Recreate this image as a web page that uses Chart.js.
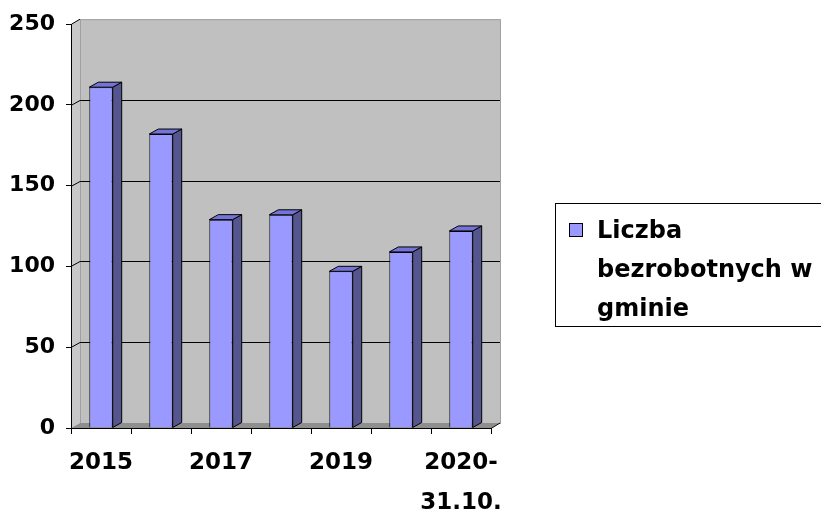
<!DOCTYPE html>
<html>
<head>
<meta charset="utf-8">
<script src="https://cdn.jsdelivr.net/npm/chart.js@4/dist/chart.umd.min.js"></script>
<style>
  body { margin: 0; background: #fff; width: 821px; height: 516px; overflow: hidden; position: relative; }
  #legend {
    position: absolute; left: 555px; top: 203px; width: 290px; height: 124px;
    border: 1px solid #000; box-sizing: border-box; background: #fff;
    font: bold 24px "DejaVu Sans", sans-serif; color: #000;
  }
  #legend .box {
    position: absolute; left: 13px; top: 19px; width: 14px; height: 14px;
    background: #9999ff; border: 1px solid #000; box-sizing: border-box;
  }
  #legend .txt { position: absolute; left: 41px; top: 7px; line-height: 39px; white-space: nowrap; }
</style>
</head>
<body>
<canvas id="chart" width="821" height="516"></canvas>
<div id="legend"><div class="box"></div><div class="txt">Liczba<br>bezrobotnych w<br>gminie</div></div>
<script>
// DATA
const categories = ['2015', '2016', '2017', '2018', '2019', '2020', ['2020-', '31.10.']];
const unemployed = [211, 182, 129, 132, 97, 109, 122];
const seriesName = 'Liczba bezrobotnych w gminie';

// 3D depth of the excel-style chart
const DX = 9, DY = 5;

const wallPlugin = {
    id: 'wall',
    beforeDraw(chart) {
        const { ctx, chartArea: a, scales: { y } } = chart;
        ctx.save();
        // side wall
        ctx.fillStyle = '#c8c8c8';
        ctx.beginPath();
        ctx.moveTo(a.left, a.bottom);
        ctx.lineTo(a.left, a.top);
        ctx.lineTo(a.left + DX, a.top - DY);
        ctx.lineTo(a.left + DX, a.bottom - DY);
        ctx.closePath();
        ctx.fill();
        // back wall
        ctx.fillStyle = '#c0c0c0';
        ctx.fillRect(a.left + DX, a.top - DY, a.right - a.left, a.bottom - a.top);
        ctx.strokeStyle = '#a0a0a0';
        ctx.lineWidth = 1;
        ctx.strokeRect(a.left + DX + 0.5, a.top - DY + 0.5, a.right - a.left, a.bottom - a.top);
        // floor
        ctx.fillStyle = '#8e8e8e';
        ctx.beginPath();
        ctx.moveTo(a.left, a.bottom);
        ctx.lineTo(a.left + DX, a.bottom - DY);
        ctx.lineTo(a.right + DX, a.bottom - DY);
        ctx.lineTo(a.right, a.bottom);
        ctx.closePath();
        ctx.fill();
        // gridlines on the back wall
        ctx.strokeStyle = '#000';
        y.ticks.forEach(t => {
            if (t.value === 0 || t.value === y.max) return;
            const py = Math.round(y.getPixelForValue(t.value)) + 0.5;
            ctx.beginPath();
            ctx.moveTo(a.left, py);
            ctx.lineTo(a.left + DX, py - DY);
            ctx.lineTo(a.right + DX, py - DY);
            ctx.stroke();
        });
        // top of y axis + right end of the floor
        ctx.beginPath();
        ctx.moveTo(a.left + 0.5, a.top);
        ctx.lineTo(a.left + DX, a.top - DY);
        ctx.moveTo(a.right, a.bottom + 0.5);
        ctx.lineTo(a.right + DX, a.bottom - DY);
        ctx.stroke();
        ctx.restore();
    },
    afterDatasetsDraw(chart) {
        const { ctx } = chart;
        ctx.save();
        ctx.strokeStyle = '#000';
        ctx.lineWidth = 1;
        chart.getDatasetMeta(0).data.forEach(bar => {
            const { x, y, width, base } = bar.getProps(['x', 'y', 'width', 'base'], true);
            const l = x - width / 2, r = x + width / 2;
            // side face
            ctx.fillStyle = '#55558f';
            ctx.beginPath();
            ctx.moveTo(r, y);
            ctx.lineTo(r + DX, y - DY);
            ctx.lineTo(r + DX, base - DY);
            ctx.lineTo(r, base);
            ctx.closePath();
            ctx.fill();
            ctx.stroke();
            // top face
            ctx.fillStyle = '#7373d8';
            ctx.beginPath();
            ctx.moveTo(l, y);
            ctx.lineTo(l + DX, y - DY);
            ctx.lineTo(r + DX, y - DY);
            ctx.lineTo(r, y);
            ctx.closePath();
            ctx.fill();
            ctx.stroke();
        });
        ctx.restore();
    }
};

const ctx = document.getElementById('chart');

new Chart(ctx, {
    type: 'bar',
    data: {
        labels: categories,
        datasets: [{
            label: seriesName,
            data: unemployed,
            backgroundColor: '#9999ff',
            borderColor: '#000',
            borderWidth: 1,
            categoryPercentage: 1,
            barPercentage: 0.39
        }]
    },
    plugins: [wallPlugin],
    options: {
        responsive: false,
        animation: false,
        devicePixelRatio: 1,
        layout: { padding: { top: 24, right: 330, left: 0, bottom: 0 } },
        plugins: {
            legend: { display: false },
            tooltip: { enabled: false }
        },
        scales: {
            x: {
                afterFit: s => { s.height = 88; },
                border: { color: '#000', width: 1 },
                grid: { drawOnChartArea: false, color: '#000', tickLength: 6 },
                ticks: {
                    autoSkip: false,
                    maxRotation: 0,
                    padding: 9,
                    color: '#000',
                    font: { family: 'DejaVu Sans', size: 23, weight: 'bold', lineHeight: 1.74 },
                    callback: function (v, i) { return i % 2 ? '' : this.getLabelForValue(v); }
                }
            },
            y: {
                min: 0,
                max: 250,
                afterFit: s => { s.width = 71; },
                border: { color: '#000', width: 1 },
                grid: { drawOnChartArea: false, color: '#000', tickLength: 5 },
                ticks: {
                    stepSize: 50,
                    padding: 11,
                    color: '#000',
                    font: { family: 'DejaVu Sans', size: 22, weight: 'bold' }
                }
            }
        }
    }
});
</script>
</body>
</html>
